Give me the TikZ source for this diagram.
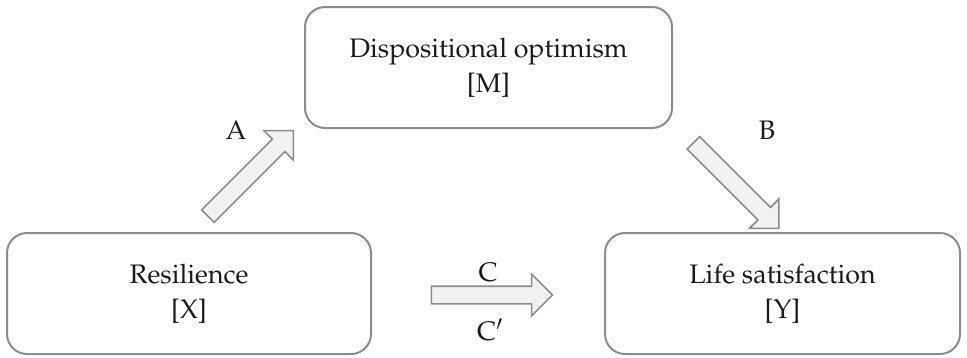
\documentclass[tikz,border=0pt]{standalone}
\usepackage[T1]{fontenc}
\usepackage{mathpazo}
\usetikzlibrary{shapes.arrows}
\definecolor{boxgray}{HTML}{8C8C8C}
\definecolor{arrowfill}{HTML}{F2F2F2}
\definecolor{txt}{HTML}{1A1A1A}
\tikzset{
  varbox/.style={draw=boxgray, line width=2pt, rounded corners=20pt, fill=white,
    align=center, text=txt, font=\fontsize{26.8}{35}\selectfont, inner sep=0pt},
  blockarrow/.style={single arrow, draw=boxgray, fill=arrowfill, line width=1.6pt,
    minimum height=121pt, minimum width=40pt, inner sep=8pt,
    single arrow head extend=12pt, single arrow tip angle=90},
  pathlabel/.style={text=txt, font=\fontsize{26.8}{32}\selectfont, inner sep=0pt}
}
\begin{document}
\begin{tikzpicture}[x=1pt,y=-1pt]
\useasboundingbox (0,0) rectangle (967,357);
\node[varbox, minimum width=367pt, minimum height=121pt] (M) at (488.5,67.5) {Dispositional optimism\\{}[M]};
\node[varbox, minimum width=364pt, minimum height=121pt] (X) at (189,293.5) {Resilience\\{}[X]};
\node[varbox, minimum width=355pt, minimum height=121pt] (Y) at (782.5,293.5) {Life satisfaction\\{}[Y]};
\node[blockarrow, rotate=45] (arrA) at (247.5,176.5) {};
\node[blockarrow, rotate=-45] (arrB) at (733,182.5) {};
\node[blockarrow] (arrC) at (487.5,295) {};
\node[pathlabel] (lA) at (236,130) {A};
\node[pathlabel] (lB) at (767,130) {B};
\node[pathlabel] (lC) at (488,272) {C};
\node[pathlabel] (lCp) at (490,330) {C$'$};
\end{tikzpicture}
\end{document}
